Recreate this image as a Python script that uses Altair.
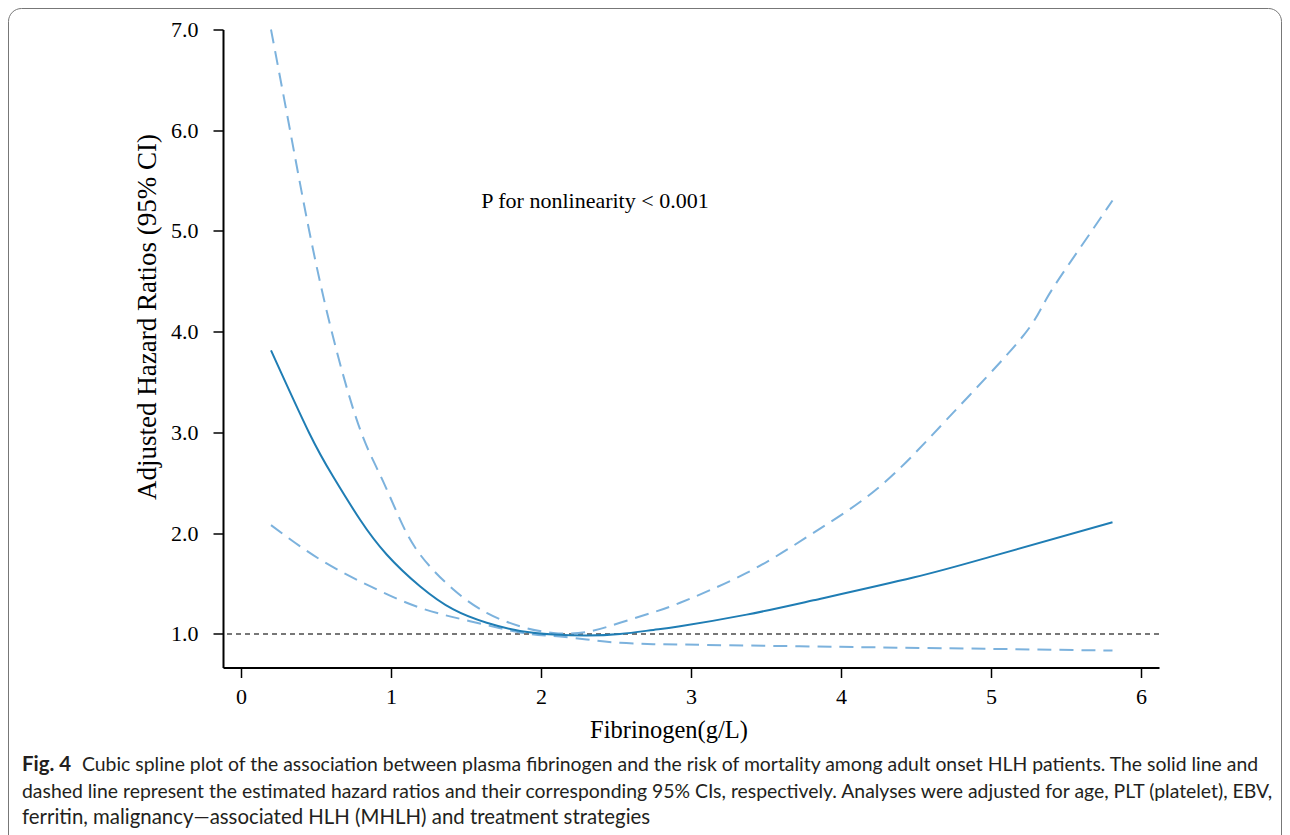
import altair as alt
import pandas as pd

# ---- data ----
hr_x = [0.2, 0.453, 0.615, 0.793, 0.971, 1.193, 1.416, 1.638, 1.86, 2.082, 2.304, 2.527,
        2.749, 2.927, 3.371, 3.816, 4.482, 4.993, 5.81]
hr_y = [3.815, 3.0, 2.56, 2.136, 1.789, 1.474, 1.243, 1.111, 1.03, 0.995, 0.985, 1.0,
        1.04, 1.076, 1.192, 1.334, 1.56, 1.765, 2.108]

up_x = [0.2, 0.327, 0.455, 0.605, 0.782, 0.927, 1.053, 1.193, 1.416, 1.638, 1.86, 2.082,
        2.304, 2.527, 2.749, 2.927, 3.371, 3.816, 4.26, 4.704, 5.193, 5.371, 5.593, 5.81]
up_y = [7.0, 6.0, 5.0, 4.0, 3.08, 2.58, 2.16, 1.79, 1.441, 1.21, 1.076, 1.01,
        1.02, 1.111, 1.215, 1.31, 1.606, 2.003, 2.465, 3.127, 3.92, 4.33, 4.83, 5.303]

lo_x = [0.2, 0.527, 0.86, 1.193, 1.527, 1.86, 2.08, 2.304, 2.527, 2.749, 2.927, 3.993,
        4.993, 5.81]
lo_y = [2.08, 1.739, 1.474, 1.26, 1.127, 1.015, 0.98, 0.945, 0.912, 0.899, 0.895, 0.872,
        0.852, 0.835]

x_ticks = [0, 1, 2, 3, 4, 5, 6]
y_ticks = [1, 2, 3, 4, 5, 6, 7]
ref_value = 1.0

annot_text = "P for nonlinearity < 0.001"
annot_x = 2.36
annot_y = 5.3

x_title = "Fibrinogen(g/L)"
y_title = "Adjusted Hazard Ratios (95% CI)"

caption_bold = "Fig. 4"
caption_lines = [
    "Cubic spline plot of the association between plasma fibrinogen and the risk of mortality among adult onset HLH patients. The solid line and",
    "dashed line represent the estimated hazard ratios and their corresponding 95% CIs, respectively. Analyses were adjusted for age, PLT (platelet), EBV,",
    "ferritin, malignancy\u2014associated HLH (MHLH) and treatment strategies",
]

# ---- layout ----
W, H = 936, 638
PAD_L, PAD_T = 215, 21.5
TOTAL_W, TOTAL_H = 1274, 827
SERIF = "Liberation Serif"
SANS = "Lato"
CAP_FS = 19.4

xs = alt.Scale(domain=[-0.12, 6.12], nice=False, zero=False)
ys = alt.Scale(domain=[0.667, 7.0], nice=False, zero=False)

x_axis = alt.Axis(values=x_ticks, format="d", title=None, grid=False,
                  domainColor="black", domainWidth=2, tickColor="black", tickWidth=1.5,
                  tickSize=10, labelFont=SERIF, labelFontSize=22, labelColor="black",
                  labelPadding=9, labelFlush=False)
y_axis = alt.Axis(values=y_ticks, format=".1f", title=None, grid=False,
                  domainColor="black", domainWidth=2, tickColor="black", tickWidth=1.5,
                  tickSize=10, labelFont=SERIF, labelFontSize=22, labelColor="black",
                  labelPadding=15, labelFlush=False)

hr_df = pd.DataFrame({"x": hr_x, "y": hr_y})
up_df = pd.DataFrame({"x": up_x, "y": up_y})
lo_df = pd.DataFrame({"x": lo_x, "y": lo_y})

base_enc = dict(x=alt.X("x:Q", scale=xs, axis=x_axis), y=alt.Y("y:Q", scale=ys, axis=y_axis))

ref = alt.Chart(pd.DataFrame({"y": [ref_value]})).mark_rule(
    color="#777777", strokeWidth=2, strokeDash=[5, 4]
).encode(y=alt.Y("y:Q", scale=ys, axis=y_axis))

upper = alt.Chart(up_df).mark_line(
    color="#7cb2dd", strokeWidth=2, strokeDash=[14, 8], interpolate="natural"
).encode(**base_enc)
lower = alt.Chart(lo_df).mark_line(
    color="#7cb2dd", strokeWidth=2, strokeDash=[14, 8], interpolate="natural"
).encode(**base_enc)
hr = alt.Chart(hr_df).mark_line(
    color="#1f7db4", strokeWidth=2, interpolate="natural"
).encode(**base_enc)

annot = alt.Chart(pd.DataFrame({"x": [annot_x], "y": [annot_y], "t": [annot_text]})).mark_text(
    font=SERIF, fontSize=22, color="black", align="center", baseline="middle"
).encode(x=alt.X("x:Q", scale=xs), y=alt.Y("y:Q", scale=ys), text="t:N")

one = pd.DataFrame({"a": [0]})

xlab = alt.Chart(one).mark_text(
    text=x_title, font=SERIF, fontSize=24.5, color="black", align="center", baseline="middle"
).encode(x=alt.value(446), y=alt.value(701.5))

ylab = alt.Chart(one).mark_text(
    text=y_title, font=SERIF, fontSize=27, color="black", align="center", baseline="middle",
    angle=270
).encode(x=alt.value(-75), y=alt.value(287.5))

cap_layers = [
    alt.Chart(one).mark_text(text=caption_bold, font=SANS, fontSize=CAP_FS + 1, fontWeight="bold",
                             color="#231f20", align="left", baseline="middle")
    .encode(x=alt.value(-201), y=alt.value(735.5)),
    alt.Chart(one).mark_text(text=caption_lines[0], font=SANS, fontSize=CAP_FS,
                             color="#231f20", align="left", baseline="middle")
    .encode(x=alt.value(-141), y=alt.value(735.5)),
    alt.Chart(one).mark_text(text=caption_lines[1], font=SANS, fontSize=CAP_FS,
                             color="#231f20", align="left", baseline="middle")
    .encode(x=alt.value(-201), y=alt.value(762.5)),
    alt.Chart(one).mark_text(text=caption_lines[2], font=SANS, fontSize=CAP_FS + 1,
                             color="#231f20", align="left", baseline="middle")
    .encode(x=alt.value(-201), y=alt.value(788.5)),
]

border = alt.Chart(one).mark_rect(
    fill="white", fillOpacity=0, stroke="#777777", strokeWidth=1, cornerRadius=13
).encode(x=alt.value(-PAD_L + 0.5), x2=alt.value(TOTAL_W - PAD_L - 0.5),
         y=alt.value(-PAD_T + 0.5), y2=alt.value(900))

chart = alt.layer(border, ref, upper, lower, hr, annot, xlab, ylab, *cap_layers).properties(
    width=W, height=H,
    autosize=alt.AutoSizeParams(type="none"),
    padding={"left": PAD_L, "top": PAD_T, "right": TOTAL_W - PAD_L - W,
             "bottom": TOTAL_H - PAD_T - H},
    background="white",
).configure_view(stroke=None)

chart.save("out.html", embed_options={"renderer": "svg", "actions": False})
